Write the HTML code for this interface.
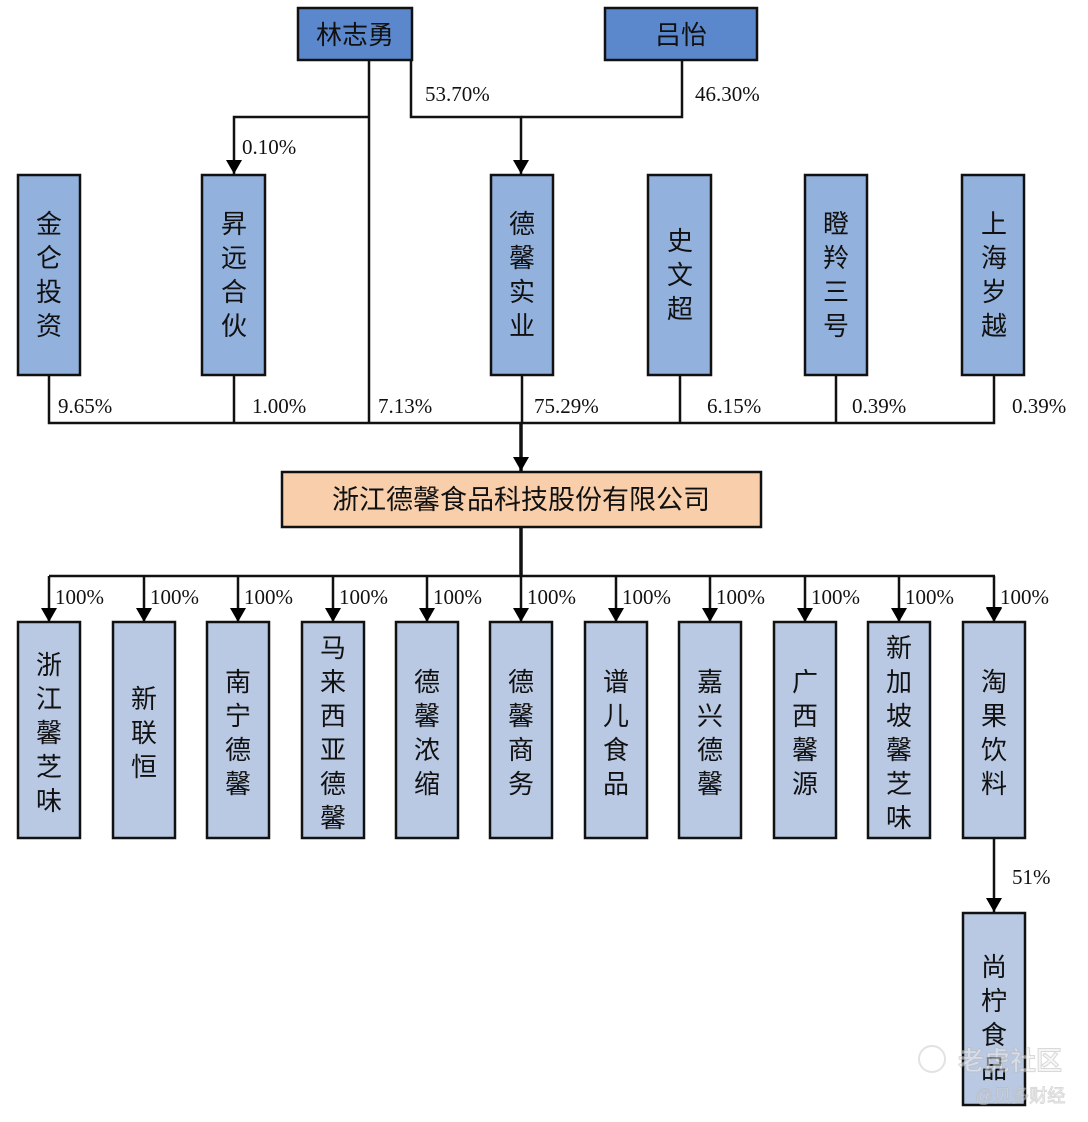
<!DOCTYPE html>
<html><head><meta charset="utf-8"><style>
html,body{margin:0;padding:0;background:#fff;}
svg{display:block;}
.c{font-family:"Liberation Sans","Noto Sans CJK SC",sans-serif;font-size:26px;fill:#111;text-anchor:middle;}
.p{font-family:"Liberation Serif",serif;font-size:21px;fill:#111;}
</style></head><body>
<svg width="1088" height="1122" viewBox="0 0 1088 1122" xmlns="http://www.w3.org/2000/svg">
<defs><marker id="a" markerWidth="10" markerHeight="12" refX="5" refY="12" orient="auto" markerUnits="userSpaceOnUse"><path d="M0,0 L10,0 L5,12 z" fill="#000"/></marker>
<marker id="d" markerWidth="16" markerHeight="14" refX="8" refY="14" markerUnits="userSpaceOnUse"><path d="M0,0 L16,0 L8,14 z" fill="#000"/></marker></defs>
<g stroke="#111" stroke-width="2.5" fill="none">
<path d="M369,60 V423"/>
<path d="M411,60 V117 H521 V174" marker-end="url(#d)"/>
<path d="M682,60 V117 H521"/>
<path d="M369,117 H234 V174" marker-end="url(#d)"/>
<path d="M49,375 V423 H994 V375"/>
<path d="M234,375 V423 M522,375 V423 M680,375 V423 M836,375 V423"/>
<path d="M521,423 V471" stroke-width="3.5" marker-end="url(#d)"/>
<path d="M521,527 V576" stroke-width="3.5"/>
<path d="M49,576 H995"/>
<path d="M49,576V621M144,576V621M238,576V621M333,576V621M427,576V621M521,576V621M616,576V621M710,576V621M805,576V621M899,576V621M994,576V621" marker-end="url(#d)"/>
<path d="M994,838 V912" marker-end="url(#d)"/>
</g>
<!-- arrows for bottom row drawn separately -->
<g fill="#000">
<path d="M41,608 h16 l-8,14z"/><path d="M136,608 h16 l-8,14z"/><path d="M230,608 h16 l-8,14z"/><path d="M325,608 h16 l-8,14z"/><path d="M419,608 h16 l-8,14z"/><path d="M513,608 h16 l-8,14z"/><path d="M608,608 h16 l-8,14z"/><path d="M702,608 h16 l-8,14z"/><path d="M797,608 h16 l-8,14z"/><path d="M891,608 h16 l-8,14z"/><path d="M986,608 h16 l-8,14z"/>
</g>
<g stroke="#111" stroke-width="2.5">
<rect x="298" y="8" width="114" height="52" fill="#5b88cc"/>
<rect x="605" y="8" width="152" height="52" fill="#5b88cc"/>
<rect x="18" y="175" width="62" height="200" fill="#93b1dd"/>
<rect x="202" y="175" width="63" height="200" fill="#93b1dd"/>
<rect x="491" y="175" width="62" height="200" fill="#93b1dd"/>
<rect x="648" y="175" width="63" height="200" fill="#93b1dd"/>
<rect x="805" y="175" width="62" height="200" fill="#93b1dd"/>
<rect x="962" y="175" width="62" height="200" fill="#93b1dd"/>
<rect x="282" y="472" width="479" height="55" fill="#f8cfaa"/>
<g fill="#b9c9e3">
<rect x="18" y="622" width="62" height="216"/><rect x="113" y="622" width="62" height="216"/><rect x="207" y="622" width="62" height="216"/><rect x="302" y="622" width="62" height="216"/><rect x="396" y="622" width="62" height="216"/><rect x="490" y="622" width="62" height="216"/><rect x="585" y="622" width="62" height="216"/><rect x="679" y="622" width="62" height="216"/><rect x="774" y="622" width="62" height="216"/><rect x="868" y="622" width="62" height="216"/><rect x="963" y="622" width="62" height="216"/>
<rect x="963" y="913" width="62" height="192"/>
</g></g>
<text class="c" x="355" y="44">林志勇</text>
<text class="c" x="681" y="44">吕怡</text>
<text class="c" x="521" y="509" style="font-size:27px">浙江德馨食品科技股份有限公司</text>
<g class="c">
<text x="49" y="233">金</text><text x="49" y="267">仑</text><text x="49" y="301">投</text><text x="49" y="335">资</text>
<text x="234" y="233">昇</text><text x="234" y="267">远</text><text x="234" y="301">合</text><text x="234" y="335">伙</text>
<text x="522" y="233">德</text><text x="522" y="267">馨</text><text x="522" y="301">实</text><text x="522" y="335">业</text>
<text x="680" y="250">史</text><text x="680" y="284">文</text><text x="680" y="318">超</text>
<text x="836" y="233">瞪</text><text x="836" y="267">羚</text><text x="836" y="301">三</text><text x="836" y="335">号</text>
<text x="994" y="233">上</text><text x="994" y="267">海</text><text x="994" y="301">岁</text><text x="994" y="335">越</text>
<text x="49" y="674">浙</text><text x="49" y="708">江</text><text x="49" y="742">馨</text><text x="49" y="776">芝</text><text x="49" y="810">味</text>
<text x="144" y="708">新</text><text x="144" y="742">联</text><text x="144" y="776">恒</text>
<text x="238" y="691">南</text><text x="238" y="725">宁</text><text x="238" y="759">德</text><text x="238" y="793">馨</text>
<text x="333" y="657">马</text><text x="333" y="691">来</text><text x="333" y="725">西</text><text x="333" y="759">亚</text><text x="333" y="793">德</text><text x="333" y="827">馨</text>
<text x="427" y="691">德</text><text x="427" y="725">馨</text><text x="427" y="759">浓</text><text x="427" y="793">缩</text>
<text x="521" y="691">德</text><text x="521" y="725">馨</text><text x="521" y="759">商</text><text x="521" y="793">务</text>
<text x="616" y="691">谱</text><text x="616" y="725">儿</text><text x="616" y="759">食</text><text x="616" y="793">品</text>
<text x="710" y="691">嘉</text><text x="710" y="725">兴</text><text x="710" y="759">德</text><text x="710" y="793">馨</text>
<text x="805" y="691">广</text><text x="805" y="725">西</text><text x="805" y="759">馨</text><text x="805" y="793">源</text>
<text x="899" y="657">新</text><text x="899" y="691">加</text><text x="899" y="725">坡</text><text x="899" y="759">馨</text><text x="899" y="793">芝</text><text x="899" y="827">味</text>
<text x="994" y="691">淘</text><text x="994" y="725">果</text><text x="994" y="759">饮</text><text x="994" y="793">料</text>
<text x="994" y="976">尚</text><text x="994" y="1010">柠</text><text x="994" y="1044">食</text><text x="994" y="1078">品</text>
</g>
<g class="p">
<text x="425" y="101">53.70%</text><text x="695" y="101">46.30%</text>
<text x="242" y="154">0.10%</text>
<text x="58" y="413">9.65%</text><text x="252" y="413">1.00%</text><text x="378" y="413">7.13%</text><text x="534" y="413">75.29%</text><text x="707" y="413">6.15%</text><text x="852" y="413">0.39%</text><text x="1012" y="413">0.39%</text>
<text x="55" y="604">100%</text><text x="150" y="604">100%</text><text x="244" y="604">100%</text><text x="339" y="604">100%</text><text x="433" y="604">100%</text><text x="527" y="604">100%</text><text x="622" y="604">100%</text><text x="716" y="604">100%</text><text x="811" y="604">100%</text><text x="905" y="604">100%</text><text x="1000" y="604">100%</text>
<text x="1012" y="884">51%</text>
</g>
<g opacity="0.55" fill="#ddd" stroke="#bbb" stroke-width="1" style="font-family:'Liberation Sans','Noto Sans CJK SC',sans-serif">
<circle cx="932" cy="1059" r="13" fill="none" stroke="#ccc" stroke-width="2"/>
<text x="958" y="1070" font-size="26" font-weight="bold" fill="#eee" stroke="#bbb">老虎社区</text>
<text x="975" y="1102" font-size="18" fill="#fff" stroke="#bbb">@贝多财经</text>
</g>
</svg>
</body></html>
